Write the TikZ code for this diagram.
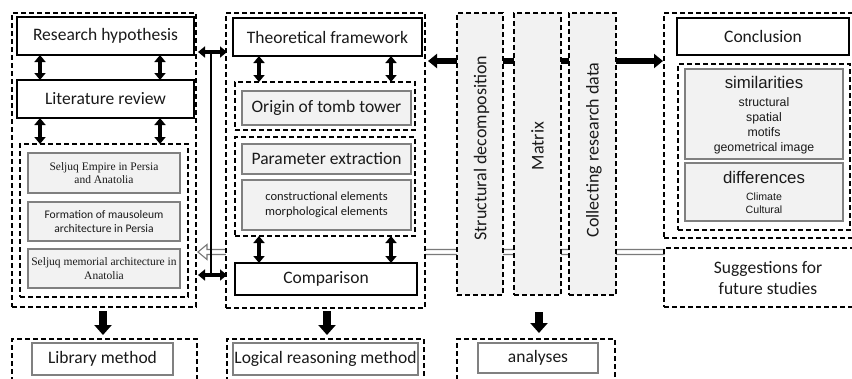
\documentclass[tikz,border=0pt]{standalone}
\usepackage{fontspec}
\setmainfont{Carlito}
\newfontfamily\serifF{Liberation Serif}
\newfontfamily\arialF{Liberation Sans}
\usetikzlibrary{arrows.meta,calc}
\pgfdeclarelayer{bg}
\pgfsetlayers{bg,main}
\definecolor{boxgray}{HTML}{F2F2F2}
\definecolor{edgegray}{HTML}{808080}
\definecolor{hollowc}{HTML}{7A7A7A}
\definecolor{ink}{HTML}{1A1A1A}
\newcommand\mkbox[7]{\node[#1, minimum width={(#5)-(#3)}, minimum height={(#6)-(#4)}] (#2) at ({((#3)+(#5))/2},{((#4)+(#6))/2}) {#7};}
\tikzset{
  base/.style={inner sep=0pt, outer sep=0pt, align=center, text=ink},
  dbox/.style={base, draw=black, line width=1.3pt, dash pattern=on 5pt off 3pt},
  dwbox/.style={dbox, fill=white},
  dgbox/.style={dbox, fill=boxgray},
  wbox/.style={base, draw=black, line width=1.3pt, fill=white},
  lbox/.style={base, draw=edgegray, line width=1.5pt, fill=white},
  gbox/.style={base, draw=edgegray, line width=1.2pt, fill=boxgray},
  big/.style={font=\fontsize{17.5}{20}\selectfont},
  smallsans/.style={font=\fontsize{11.6}{14}\selectfont},
  midsans/.style={font=\fontsize{12.5}{15}\selectfont},
  smallserif/.style={font=\serifF\fontsize{11.5}{13.5}\selectfont},
  dblarrow/.style={draw=black, line width=4pt, {Triangle[width=11pt,length=7pt]}-{Triangle[width=11pt,length=7pt]}},
  thickarrow/.style={draw=black, line width=5.5pt, {Triangle[width=14pt,length=9pt]}-{Triangle[width=14pt,length=9pt]}},
  downarrow/.style={draw=black, line width=8pt, -{Triangle[width=17pt,length=10pt]}},
  hollowarrow/.style={draw=hollowc, fill=white, line width=1.1pt, line join=miter},
}
\begin{document}
\begin{tikzpicture}[x=1pt,y=-1pt]
\clip (0,0) rectangle (852,378);

% ---------- column 1
\mkbox{dbox}{o1}{12}{13}{196}{307}{}
\mkbox{wbox,big}{rh}{17}{17}{194}{55}{Research hypothesis}
\mkbox{wbox,big}{lr}{17}{80}{194}{118}{Literature review}
\mkbox{dbox}{i1}{20}{144}{188}{297}{}
\mkbox{gbox,smallserif}{g1}{28}{153}{180}{193}{Seljuq Empire in Persia\\and Anatolia}
\mkbox{gbox,smallsans}{g2}{28}{202}{180}{241}{Formation of mausoleum\\architecture in Persia}
\mkbox{gbox,smallserif}{g3}{28}{249}{180}{288}{Seljuq memorial architecture in\\Anatolia}
\mkbox{dbox}{lo}{12}{339}{197}{395}{}
\mkbox{lbox,big}{lm}{32}{343}{173}{375}{Library method}

% ---------- column 2
\mkbox{dwbox}{o2}{226}{13}{425}{308}{}
\mkbox{wbox,big}{tf}{233}{18}{422}{56}{Theoretical framework}
\mkbox{dbox}{i2a}{235}{82}{415}{130}{}
\mkbox{gbox,big}{ot}{242}{91}{411}{125}{Origin of tomb tower}
\mkbox{dbox}{i2b}{235}{137}{415}{236}{}
\mkbox{gbox,big}{pe}{242}{144}{411}{174}{Parameter extraction}
\mkbox{gbox,midsans}{ce}{242}{180}{411}{230}{constructional elements\\morphological elements}
\mkbox{wbox,big}{cmp}{235}{263}{417}{295}{Comparison}
\mkbox{dbox}{lro}{227}{339}{424}{395}{}
\mkbox{lbox,big}{lrm}{233}{343}{418}{375}{Logical reasoning method}

% ---------- column 3
\mkbox{dgbox}{sd}{457}{13}{503}{295}{}
\mkbox{dgbox}{mx}{514}{13}{561}{295}{}
\mkbox{dgbox}{cr}{569}{13}{616}{295}{}
\node[base,font=\fontsize{18}{20}\selectfont,rotate=90] (sdt) at ($(sd.center)+(1.5,-6)$) {Structural decomposition};
\node[base,font=\fontsize{18}{20}\selectfont,rotate=90] (mxt) at ($(mx.center)+(0,-8)$) {Matrix};
\node[base,font=\fontsize{18}{20}\selectfont,rotate=90] (crt) at ($(cr.center)+(1.5,-4)$) {Collecting research data};
\mkbox{dbox}{ano}{457}{339}{615}{395}{}
\mkbox{lbox,big}{an}{478}{343}{598}{373}{analyses}

% ---------- column 4
\mkbox{dbox}{o4}{664}{13}{870}{238}{}
\mkbox{wbox,big}{con}{677}{18}{849}{55}{Conclusion}
\mkbox{dbox}{i4}{678}{64}{850}{230}{}
\mkbox{gbox}{sim}{685}{69}{843}{159}{}
\node[base,font=\arialF\fontsize{16.8}{19}\selectfont] (simt) at (764,82) {similarities};
\node[base,font=\arialF\fontsize{12.3}{15.2}\selectfont] (siml) at (764,126) {structural\\spatial\\motifs\\geometrical image};
\mkbox{gbox}{dif}{685}{163}{843}{221}{}
\node[base,font=\arialF\fontsize{16.8}{19}\selectfont] (dift) at (764,177) {differences};
\node[base,font=\arialF\fontsize{10.6}{12.5}\selectfont] (difl) at (764,203) {Climate\\Cultural};
\mkbox{dbox}{sug}{664}{248}{870}{307}{}
\node[base,font=\fontsize{17.5}{21}\selectfont] (sugt) at (768,278) {Suggestions for\\future studies};

% ---------- connectors
\coordinate (yA) at (0,61);
\coordinate (yH) at (0,252);
\coordinate (yT) at (0,52);
\coordinate (yB) at (0,275);
\coordinate (vx) at ($(o1.east)!0.5!(o2.west)$);

\begin{pgfonlayer}{bg}
\fill[white] (0,0) rectangle (852,378);
\draw[thickarrow] ($(o2.east |- yA)+(3,0)$) -- ($(o4.west |- yA)+(-1,0)$);
\coordinate (ht) at ($(o1.east |- yH)+(2,0)$);
\coordinate (he) at (sug.west |- yH);
\draw[hollowarrow] (ht) -- ++(9,-7.5) -- ++(0,5) -- ($(he)+(0,-2.5)$) -- ($(he)+(0,2.5)$) -- ($(ht)+(9,2.5)$) -- ++(0,5) -- cycle;
\end{pgfonlayer}

\draw[draw=black, line width=2pt] (vx |- yT) -- (vx |- yB);
\draw[dblarrow] ($(o1.east |- yT)+(2,0)$) -- ($(o2.west |- yT)+(1,0)$);
\draw[dblarrow] ($(o1.east |- yB)+(2,0)$) -- ($(o2.west |- yB)+(1,0)$);

\draw[dblarrow] ($(rh.south west)+(23,0)$) -- ($(lr.north west)+(23,0)$);
\draw[dblarrow] ($(rh.south west)+(143,0)$) -- ($(lr.north west)+(143,0)$);
\draw[dblarrow] ($(lr.south west)+(23,0)$) -- ($(i1.north west)+(20,0)$);
\draw[dblarrow] ($(lr.south west)+(143,0)$) -- ($(i1.north west)+(140,0)$);

\draw[dblarrow] ($(tf.south west)+(26,0)$) -- ($(i2a.north west)+(24,0)$);
\draw[dblarrow] ($(tf.south west)+(158,0)$) -- ($(i2a.north west)+(156,0)$);
\draw[dblarrow] ($(i2b.south west)+(24,0)$) -- ($(cmp.north west)+(24,0)$);
\draw[dblarrow] ($(i2b.south west)+(156,0)$) -- ($(cmp.north west)+(156,0)$);

\draw[downarrow] ($(o1.south)+(-1,4)$) -- ($(lo.north)+(-1.5,-4)$);
\draw[downarrow] ($(o2.south)+(1.5,3)$) -- ($(lro.north)+(1.5,-4)$);
\draw[downarrow] ($(mx.south)+(1.5,17)$) -- ($(ano.north)+(3,-6)$);
\end{tikzpicture}
\end{document}
